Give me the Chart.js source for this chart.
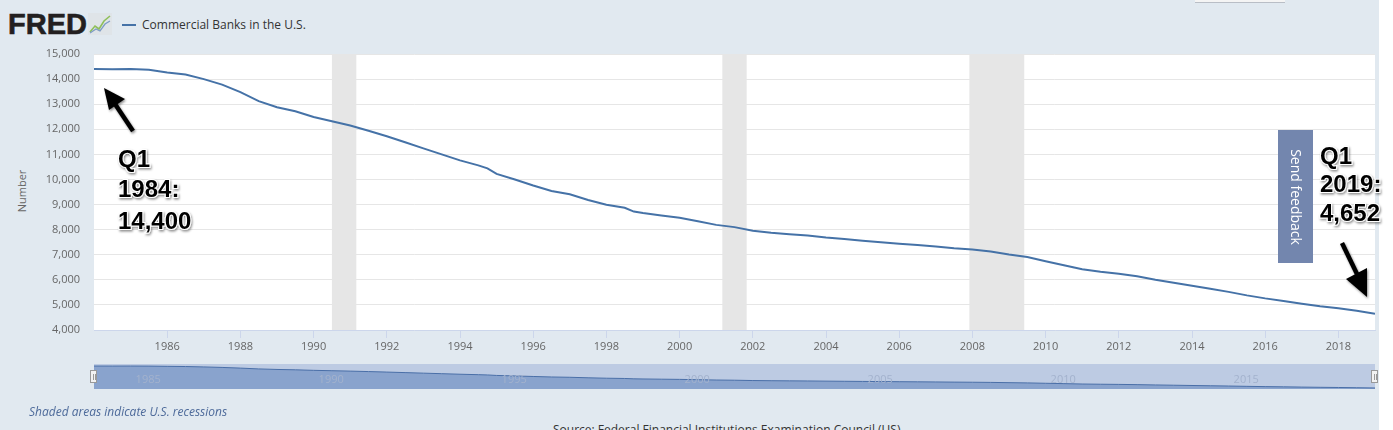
<!DOCTYPE html>
<html>
<head>
<meta charset="utf-8">
<script src="https://cdn.jsdelivr.net/npm/chart.js@4.4.1/dist/chart.umd.min.js"></script>
<style>
  html, body { margin:0; padding:0; background:#ffffff; }
  body { width:1393px; height:430px; overflow:hidden; position:relative; font-family:"Open Sans", sans-serif; }
  #page { position:absolute; left:0; top:0; width:1379px; height:430px; background:#e1e9f0; }
  #mainWrap { position:absolute; left:0; top:0; width:1393px; height:360px; }
  #navWrap { position:absolute; left:94px; top:364px; width:1281px; height:25px; }
  .abs { position:absolute; white-space:nowrap; }
  #logo { left:8px; top:7px; font-family:"Liberation Sans", Arial, sans-serif; font-weight:bold; font-size:29px; letter-spacing:0px; color:#231f20; line-height:34px; -webkit-text-stroke:0.6px #231f20; }
  #legendLine { left:122px; top:24px; width:14px; height:2px; background:#4572a7; }
  #legendText { left:142px; top:16px; font-size:12px; color:#333333; line-height:18px; }
  #ytitle { left:21px; top:191px; font-size:11px; color:#666666; transform:translate(-50%,-50%) rotate(-90deg); }
  #feedback { left:1278px; top:130px; width:35px; height:133px; background:#7386ae; }
  #feedback span { position:absolute; left:50%; top:50%; transform:translate(-50%,-50%) rotate(90deg); color:#ffffff; font-size:14px; white-space:nowrap; }
  #topBtn { left:1195px; top:0px; width:90px; height:2px; background:#f4f4f4; border-bottom:1px solid #b9bec6; }
  .handle { position:absolute; width:7px; height:13px; background:#f2f2f2; border:1px solid #999999; box-sizing:border-box; }
  .handle::before, .handle::after { content:""; position:absolute; top:3px; width:1px; height:6px; background:#999; }
  .handle::before { left:2px; } .handle::after { left:4px; }
  #shaded { left:29px; top:403px; font-size:12px; font-style:italic; color:#4d6a9a; line-height:18px; }
  #source { left:553px; top:421px; font-size:12px; color:#333333; line-height:18px; }
  svg#ann { position:absolute; left:0; top:0; }
</style>
</head>
<body>
<div id="page"></div>
<div id="topBtn" class="abs"></div>
<div id="logo" class="abs">FRED</div>
<svg class="abs" style="left:88px;top:13px" width="24" height="22" viewBox="0 0 24 22">
  <rect x="0" y="0" width="24" height="22" fill="#dfe4e8"/>
  <polyline points="2,19 7,13 11,16 16,8 22,3" fill="none" stroke="#8fbf5a" stroke-width="1.6"/>
  <polyline points="2,20 8,16 12,18 17,11 22,8" fill="none" stroke="#7e9cc6" stroke-width="1.3"/>
</svg>
<div id="legendLine" class="abs"></div>
<div id="legendText" class="abs">Commercial Banks in the U.S.</div>
<div id="ytitle" class="abs">Number</div>
<div id="mainWrap"><canvas id="main"></canvas></div>
<div id="navWrap"><canvas id="nav"></canvas></div>
<div class="handle" style="left:90px;top:370px;"></div>
<div class="handle" style="left:1371px;top:370px;"></div>
<div id="shaded" class="abs">Shaded areas indicate U.S. recessions</div>
<div id="source" class="abs">Source: Federal Financial Institutions Examination Council (US)</div>
<svg id="ann" width="1393" height="430">
  <defs>
    <filter id="sh" x="-20%" y="-20%" width="140%" height="140%">
      <feDropShadow dx="1" dy="1.5" stdDeviation="1.2" flood-color="#000" flood-opacity="0.45"/>
    </filter>
  </defs>
  <g filter="url(#sh)">
    <line x1="133" y1="131" x2="115" y2="104" stroke="#000" stroke-width="4.5"/>
    <polygon points="104,88 125,99 109,110" fill="#000"/>
    <line x1="1342" y1="243" x2="1357" y2="274" stroke="#000" stroke-width="4.5"/>
    <polygon points="1367,297 1346,279 1367,268" fill="#000"/>
    <g font-family="Liberation Sans, Arial, sans-serif" font-weight="bold" font-size="24" fill="#000" stroke="#fff" stroke-width="2" paint-order="stroke">
      <text x="118" y="167">Q1</text>
      <text x="118" y="197">1984:</text>
      <text x="118" y="229">14,400</text>
      <text x="1320" y="164">Q1</text>
      <text x="1320" y="192">2019:</text>
      <text x="1320" y="221">4,652</text>
    </g>
  </g>
</svg>
<div id="feedback" class="abs"><span>Send feedback</span></div>

<script>
// ---------- DATA ----------
const years = [1984.0,1984.5,1985.0,1985.5,1986.0,1986.5,1987.0,1987.5,1988.0,1988.5,1989.0,1989.5,
  1990.0,1990.5,1991.0,1991.5,1992.0,1992.5,1993.0,1993.5,1994.0,1994.5,1994.75,1995.0,1995.5,
  1996.0,1996.5,1997.0,1997.5,1998.0,1998.5,1998.75,1999.0,1999.5,2000.0,2000.5,2001.0,2001.5,
  2002.0,2002.5,2003.0,2003.5,2004.0,2004.5,2005.0,2005.5,2006.0,2006.5,2007.0,2007.5,2008.0,2008.5,
  2009.0,2009.5,2010.0,2010.5,2011.0,2011.5,2012.0,2012.5,2013.0,2013.5,2014.0,2014.5,2015.0,2015.5,
  2016.0,2016.5,2017.0,2017.5,2018.0,2018.5,2019.0];
const banks = [14400,14390,14400,14370,14260,14180,14000,13780,13480,13120,12880,12720,
  12490,12320,12150,11940,11720,11480,11240,11000,10760,10560,10440,10220,10000,
  9760,9540,9410,9180,8990,8870,8720,8660,8560,8470,8330,8190,8100,
  7960,7880,7820,7770,7690,7630,7560,7500,7440,7390,7330,7260,7210,7130,
  7010,6910,6740,6580,6420,6320,6240,6140,6000,5880,5760,5640,5520,5380,
  5260,5160,5050,4950,4870,4770,4652];
const recessionStarts = [1990.5, 2001.167, 2007.917];
const recessionEnds   = [1991.167, 2001.833, 2009.417];
const xTickYears = [1986,1988,1990,1992,1994,1996,1998,2000,2002,2004,2006,2008,2010,2012,2014,2016,2018];
const yTickValues = [4000,5000,6000,7000,8000,9000,10000,11000,12000,13000,14000,15000];
const navTickYears = [1985,1990,1995,2000,2005,2010,2015];

// ---------- MAIN CHART ----------
const points = years.map((y,i)=>({x:y, y:banks[i]}));

const bgPlugin = {
  id:'bg',
  beforeDraw(chart){
    const {ctx, chartArea:a, scales:{x}} = chart;
    ctx.save();
    ctx.fillStyle = '#ffffff';
    ctx.fillRect(a.left, a.top, a.right-a.left, a.bottom-a.top);
    ctx.fillStyle = '#e6e6e6';
    recessionStarts.forEach((s,i)=>{
      const x0 = x.getPixelForValue(s), x1 = x.getPixelForValue(recessionEnds[i]);
      ctx.fillRect(x0, a.top, x1-x0, a.bottom-a.top);
    });
    ctx.restore();
  }
};

new Chart(document.getElementById('main'), {
  type:'line',
  data:{ datasets:[{ data:points, borderColor:'#4572a7', borderWidth:2, pointRadius:0, tension:0, fill:false }] },
  options:{
    responsive:true, maintainAspectRatio:false, animation:false,
    layout:{ padding:{ top:54, right:18, left:0, bottom:0 } },
    plugins:{ legend:{display:false}, tooltip:{enabled:false} },
    scales:{
      x:{
        type:'linear', min:1984, max:2019,
        afterBuildTicks(s){ s.ticks = xTickYears.map(v=>({value:v})); },
        afterFit(s){ s.height = 30; },
        grid:{ drawOnChartArea:false, drawTicks:true, tickLength:8, color:'#ccd6eb' },
        border:{ display:true, color:'#ccd6eb', width:1 },
        ticks:{ autoSkip:false, maxRotation:0, padding:2, color:'#666666', font:{family:'Open Sans', size:11}, callback:v=>String(v) }
      },
      y:{
        type:'linear', min:4000, max:15000,
        afterBuildTicks(s){ s.ticks = yTickValues.map(v=>({value:v})); },
        afterFit(s){ s.width = 94; },
        grid:{ color:'#e6e6e6', drawTicks:false, lineWidth:1 },
        border:{ display:false },
        ticks:{ padding:14, color:'#666666', font:{family:'Open Sans', size:11}, callback:v=>v.toLocaleString('en-US') }
      }
    }
  },
  plugins:[bgPlugin]
});

// ---------- NAVIGATOR ----------
const navPlugin = {
  id:'navbg',
  beforeDraw(chart){
    const {ctx, width, height} = chart;
    ctx.save(); ctx.fillStyle = '#bdcbe3'; ctx.fillRect(0,0,width,height); ctx.restore();
  },
  afterDatasetsDraw(chart){
    const {ctx, scales:{x}} = chart;
    ctx.save();
    ctx.fillStyle = '#a3b2cd';
    ctx.font = '11px "Open Sans"';
    ctx.textBaseline = 'middle';
    navTickYears.forEach(v=>{ ctx.fillText(String(v), x.getPixelForValue(v)+5, 16); });
    ctx.restore();
  }
};

new Chart(document.getElementById('nav'), {
  type:'line',
  data:{ datasets:[{ data:points, borderColor:'#4a6fa8', borderWidth:1, pointRadius:0, tension:0, fill:'start', backgroundColor:'#89a3cd' }] },
  options:{
    responsive:true, maintainAspectRatio:false, animation:false,
    layout:{ padding:0 },
    plugins:{ legend:{display:false}, tooltip:{enabled:false} },
    scales:{
      x:{ type:'linear', min:1984, max:2019, display:false },
      y:{ type:'linear', min:4200, max:15300, display:false }
    }
  },
  plugins:[navPlugin]
});
</script>
</body>
</html>
